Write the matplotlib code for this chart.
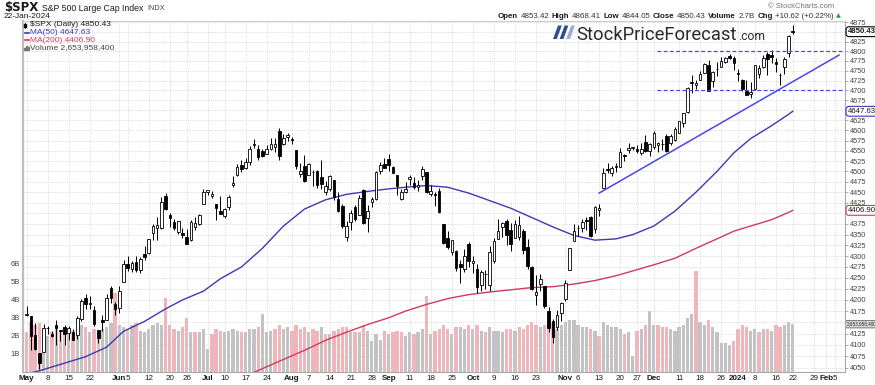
import numpy as np
import pandas as pd
import matplotlib
matplotlib.use("Agg")
import matplotlib.pyplot as plt
from matplotlib import font_manager as fm
from matplotlib.patches import Polygon, Rectangle
from matplotlib.lines import Line2D
from matplotlib.ticker import NullLocator

# =====================================================
# DATA  (daily $SPX, 1-May-2023 .. 22-Jan-2024)
# =====================================================

HOLIDAYS = ["2023-05-29", "2023-06-19", "2023-07-04", "2023-09-04",
            "2023-11-23", "2023-12-25", "2024-01-01", "2024-01-15"]

PREV_CLOSE = 4169.48  # 28-Apr-2023

OPEN = [
    4166.79, 4164.10, 4122.25, 4082.61, 4084.73, 4136.98, 4124.25, 4143.74, 4132.24, 4138.54, 4126.65,
    4127.95, 4122.85, 4157.68, 4204.15, 4190.78, 4176.80, 4132.96, 4155.71, 4156.16, 4226.71, 4190.74,
    4183.03, 4241.01, 4282.99, 4271.34, 4285.47, 4268.69, 4304.88, 4308.32, 4352.61, 4366.29, 4365.33,
    4440.95, 4396.11, 4380.01, 4355.40, 4354.17, 4344.84, 4337.36, 4367.48, 4374.94, 4422.44,
    4450.48, 4442.04, 4422.62, 4404.54, 4394.23, 4415.55, 4467.69, 4491.50, 4514.61, 4508.86,
    4521.78, 4563.87, 4554.38, 4550.16, 4543.39, 4555.19, 4558.96, 4598.26, 4565.75, 4584.82,
    4578.83, 4550.93, 4494.27, 4513.96, 4491.58, 4498.03, 4501.57, 4487.16, 4450.69, 4458.13, 4478.87,
    4433.79, 4416.32, 4344.88, 4380.28, 4415.33, 4396.44, 4455.16, 4389.38, 4426.03, 4432.75, 4500.34, 4517.01,
    4530.60, 4510.06, 4490.35, 4434.55, 4451.30, 4480.98, 4473.27, 4462.65, 4487.78, 4497.98,
    4445.13, 4445.41, 4452.81, 4374.36, 4341.74, 4310.62, 4312.88, 4282.63, 4269.65, 4328.18,
    4284.52, 4269.75, 4233.83, 4259.31, 4234.79, 4289.02, 4339.75, 4366.59, 4380.94, 4360.49, 4342.37,
    4345.23, 4357.35, 4321.36, 4273.85, 4210.40, 4235.79, 4232.42, 4175.99, 4152.93, 4139.39, 4171.33,
    4201.27, 4268.26, 4334.23, 4364.27, 4366.21, 4384.37, 4391.41, 4364.15, 4406.66, 4458.97, 4505.30,
    4497.08, 4509.55, 4511.70, 4538.77, 4553.04, 4555.84, 4554.86, 4545.55, 4571.84, 4548.91,
    4559.43, 4564.37, 4566.75, 4586.23, 4568.84, 4576.20, 4593.39, 4618.30, 4646.20, 4721.04,
    4714.23, 4725.58, 4743.72, 4764.73, 4724.29, 4753.92, 4758.86, 4773.45, 4786.44, 4782.88,
    4745.20, 4725.07, 4697.42, 4690.57, 4703.70, 4741.93, 4759.94, 4792.13, 4791.18, 4772.35,
    4739.13, 4760.10, 4796.28, 4853.42,
]
HIGH = [
    4186.92, 4164.10, 4148.30, 4082.61, 4147.02, 4142.30, 4130.35, 4154.28, 4132.80, 4143.74, 4141.25,
    4135.54, 4164.67, 4202.20, 4212.91, 4209.22, 4185.68, 4132.96, 4165.74, 4212.87, 4231.10, 4195.44,
    4232.43, 4290.67, 4299.28, 4288.33, 4299.19, 4298.01, 4322.62, 4340.13, 4375.37, 4391.82, 4439.20,
    4448.47, 4400.15, 4386.22, 4382.25, 4366.55, 4362.06, 4384.42, 4390.35, 4398.39, 4458.48,
    4456.46, 4454.06, 4422.62, 4440.39, 4412.60, 4443.64, 4488.34, 4517.38, 4527.76, 4532.85,
    4562.30, 4578.43, 4564.74, 4555.00, 4563.41, 4580.62, 4582.47, 4607.07, 4590.16, 4594.22,
    4584.62, 4550.93, 4519.49, 4540.34, 4519.84, 4503.31, 4502.44, 4527.37, 4476.23, 4490.33, 4478.87,
    4449.95, 4421.17, 4381.82, 4407.55, 4418.59, 4443.18, 4458.30, 4418.46, 4439.56, 4500.14, 4521.65, 4532.26,
    4541.25, 4514.29, 4490.35, 4457.81, 4473.53, 4490.77, 4487.11, 4479.39, 4511.99, 4497.98,
    4466.36, 4449.85, 4461.03, 4375.70, 4357.40, 4338.51, 4313.01, 4292.07, 4317.27, 4333.15,
    4300.58, 4281.15, 4268.50, 4267.13, 4324.10, 4341.73, 4385.46, 4378.64, 4385.85, 4377.10, 4383.33,
    4393.57, 4364.20, 4339.54, 4276.56, 4255.84, 4259.38, 4232.42, 4183.60, 4156.70, 4177.47, 4195.55,
    4245.64, 4319.72, 4373.62, 4372.21, 4386.26, 4391.20, 4393.40, 4418.03, 4421.76, 4508.67, 4521.17,
    4511.99, 4520.12, 4557.11, 4542.14, 4568.43, 4560.31, 4564.37, 4568.14, 4587.64, 4569.89,
    4599.39, 4572.37, 4578.56, 4590.74, 4590.92, 4609.23, 4623.71, 4643.93, 4709.69, 4738.57,
    4725.53, 4749.52, 4768.69, 4778.01, 4748.71, 4772.94, 4784.72, 4785.39, 4793.30, 4788.43,
    4754.33, 4729.29, 4726.78, 4721.49, 4764.54, 4765.47, 4790.80, 4798.50, 4802.40, 4782.34,
    4744.23, 4785.79, 4842.07, 4868.41,
]
LOW = [
    4164.12, 4089.72, 4088.86, 4048.28, 4084.73, 4123.81, 4116.65, 4098.92, 4109.29, 4099.12, 4110.27,
    4109.86, 4113.62, 4153.50, 4180.20, 4179.68, 4142.54, 4103.98, 4129.73, 4156.16, 4192.18, 4166.15,
    4171.64, 4241.01, 4266.82, 4263.09, 4263.96, 4261.07, 4291.70, 4304.37, 4337.66, 4337.85, 4362.60,
    4407.44, 4367.19, 4360.14, 4351.82, 4341.34, 4328.08, 4335.00, 4360.22, 4371.97, 4422.44,
    4442.29, 4436.61, 4385.05, 4397.40, 4389.92, 4408.46, 4463.23, 4489.36, 4499.56, 4504.90,
    4514.59, 4557.48, 4527.56, 4535.79, 4541.29, 4552.42, 4547.58, 4528.56, 4564.01, 4573.14,
    4567.53, 4505.75, 4485.54, 4474.55, 4491.15, 4464.39, 4461.33, 4457.92, 4443.98, 4453.44, 4432.19,
    4403.55, 4364.83, 4335.31, 4360.30, 4382.77, 4396.44, 4375.55, 4356.29, 4414.98, 4431.68, 4493.59, 4507.39,
    4501.35, 4496.01, 4442.38, 4430.46, 4448.38, 4467.89, 4456.83, 4453.52, 4478.69, 4447.21,
    4442.11, 4416.61, 4401.38, 4329.17, 4316.49, 4302.70, 4265.98, 4238.63, 4264.38, 4274.86,
    4260.21, 4216.45, 4220.48, 4225.91, 4219.55, 4283.79, 4339.64, 4345.34, 4325.43, 4311.97, 4342.37,
    4337.54, 4303.84, 4269.69, 4223.03, 4189.22, 4219.43, 4181.42, 4127.90, 4103.78, 4132.94, 4153.12,
    4197.74, 4268.26, 4334.23, 4347.53, 4355.41, 4359.76, 4343.94, 4353.34, 4393.82, 4458.97, 4495.31,
    4487.83, 4499.66, 4510.36, 4525.51, 4545.05, 4552.80, 4545.07, 4540.51, 4547.15, 4537.24,
    4554.71, 4546.72, 4551.68, 4546.50, 4565.22, 4574.06, 4593.39, 4608.09, 4643.23, 4694.34,
    4704.69, 4725.58, 4743.72, 4697.82, 4708.35, 4736.77, 4758.45, 4768.90, 4780.98, 4751.99,
    4722.67, 4699.71, 4687.53, 4682.11, 4699.82, 4730.35, 4756.20, 4739.58, 4768.98, 4747.12,
    4714.82, 4740.57, 4785.87, 4844.05,
]
CLOSE = [
    4167.87, 4119.58, 4090.75, 4061.22, 4136.25, 4138.12, 4119.17, 4137.64, 4130.62, 4124.08, 4136.28,
    4109.90, 4158.77, 4198.05, 4191.98, 4192.63, 4145.58, 4115.24, 4151.28, 4205.45, 4205.52, 4179.83,
    4221.02, 4282.37, 4273.79, 4283.85, 4267.52, 4293.93, 4298.86, 4338.93, 4369.01, 4372.59, 4425.84,
    4409.59, 4388.71, 4365.69, 4381.89, 4348.33, 4328.82, 4378.41, 4376.86, 4396.44, 4450.38,
    4455.59, 4446.82, 4411.59, 4398.95, 4409.53, 4439.26, 4472.16, 4510.04, 4505.42, 4522.79,
    4554.98, 4565.72, 4534.87, 4536.34, 4554.64, 4567.46, 4566.75, 4537.41, 4582.23, 4588.96,
    4576.73, 4513.39, 4501.89, 4478.03, 4518.44, 4499.38, 4467.71, 4468.83, 4464.05, 4489.72, 4437.86,
    4404.33, 4370.36, 4369.71, 4399.77, 4387.55, 4436.01, 4376.31, 4405.71, 4433.31, 4497.63, 4514.87, 4507.66,
    4515.77, 4496.83, 4465.48, 4451.14, 4457.49, 4487.46, 4461.90, 4467.44, 4505.10, 4450.32,
    4453.53, 4443.95, 4402.20, 4330.00, 4320.06, 4337.44, 4273.53, 4274.51, 4299.70, 4288.05,
    4288.39, 4229.45, 4263.75, 4258.19, 4308.50, 4335.66, 4358.24, 4376.95, 4349.61, 4327.78, 4373.63,
    4373.20, 4314.60, 4278.00, 4224.16, 4217.04, 4247.68, 4186.77, 4137.23, 4117.37, 4166.82, 4193.80,
    4237.86, 4317.78, 4358.34, 4365.98, 4378.38, 4382.78, 4347.35, 4415.24, 4411.55, 4495.70, 4502.88,
    4508.24, 4514.02, 4547.38, 4538.19, 4556.62, 4559.34, 4550.43, 4554.89, 4550.58, 4567.80,
    4594.63, 4569.78, 4567.18, 4549.34, 4585.59, 4604.37, 4622.44, 4643.70, 4707.09, 4719.55,
    4719.19, 4740.56, 4768.37, 4698.35, 4746.75, 4754.63, 4774.75, 4781.58, 4783.35, 4769.83,
    4742.83, 4704.81, 4688.68, 4697.24, 4763.54, 4756.50, 4783.45, 4780.24, 4783.83, 4765.98,
    4739.21, 4780.94, 4839.81, 4850.43,
]
# volume, billions of shares
VOLUME = [
    2.2, 2.8, 2.6, 2.7, 2.3, 2.0, 2.2, 2.4, 2.3, 2.2, 2.1, 2.3, 2.4, 2.6, 2.5, 2.2, 2.4, 2.3, 2.4, 2.5, 2.7, 4.4,
    2.6, 2.5, 2.4, 2.6, 2.7, 2.3, 2.2, 2.4, 2.6, 2.7, 2.6, 4.1, 2.6, 2.4, 2.3, 2.5, 3.0, 2.2, 2.2, 2.2, 2.4,
    1.3, 2.1, 2.4, 2.3, 2.2, 2.3, 2.4, 2.3, 2.2, 2.2, 2.4, 2.4, 2.5, 3.2, 2.2, 2.3, 2.4, 2.6, 2.4, 2.5,
    2.3, 2.6, 2.4, 2.5, 2.2, 2.4, 2.3, 2.5, 2.1, 2.1, 2.3, 2.4, 2.5, 2.5, 2.2, 2.2, 2.2, 2.6, 2.3, 1.7, 2.1, 1.8, 2.3,
    2.1, 2.2, 2.3, 2.2, 2.0, 2.2, 2.1, 2.2, 2.4, 4.2, 2.1, 2.3, 2.4, 2.6, 2.4, 2.1, 2.5, 2.5, 2.4, 2.6,
    2.4, 2.6, 2.3, 2.2, 2.5, 2.3, 2.3, 2.2, 2.4, 2.4, 2.3, 2.5, 2.4, 2.6, 2.8, 2.6, 2.5, 2.6, 2.8, 2.7, 2.4, 2.6,
    2.8, 2.9, 2.9, 2.6, 2.5, 2.5, 2.4, 2.3, 2.0, 2.8, 2.6, 2.5, 2.5, 2.4, 2.1, 2.2, 0.9, 2.3, 2.4, 2.6, 3.4,
    2.6, 2.6, 2.5, 2.5, 2.4, 2.3, 2.5, 2.6, 3.0, 3.2, 5.6, 2.8, 2.6, 2.9, 2.5, 2.2, 1.6, 1.6, 1.5, 1.7,
    2.4, 2.6, 2.5, 2.3, 2.4, 2.2, 2.4, 2.4, 2.3, 2.6, 2.5, 2.6, 2.8, 2.6539584,
]

MA50_DATES = ["2023-05-01", "2023-05-05", "2023-05-12", "2023-05-19", "2023-05-26", "2023-06-02",
              "2023-06-09", "2023-06-16", "2023-06-23", "2023-06-30", "2023-07-07", "2023-07-14",
              "2023-07-21", "2023-07-28", "2023-08-04", "2023-08-11", "2023-08-18", "2023-08-25",
              "2023-09-01", "2023-09-08", "2023-09-15", "2023-09-22", "2023-09-29", "2023-10-06",
              "2023-10-13", "2023-10-20", "2023-10-27", "2023-11-03", "2023-11-10", "2023-11-17",
              "2023-11-24", "2023-12-01", "2023-12-08", "2023-12-15", "2023-12-22", "2023-12-29",
              "2024-01-05", "2024-01-12", "2024-01-19", "2024-01-22"]
MA50 = [4036, 4046, 4060, 4074, 4095, 4130, 4152, 4180, 4200, 4220, 4248, 4275,
        4318, 4370, 4410, 4432, 4445, 4452, 4458, 4462, 4466, 4462, 4448, 4430,
        4412, 4390, 4368, 4348, 4337, 4340, 4350, 4370, 4405, 4450, 4500, 4545,
        4580, 4612, 4640, 4647.63]

MA200_DATES = ["2023-07-14", "2023-07-21", "2023-07-28", "2023-08-04", "2023-08-11", "2023-08-18",
               "2023-08-25", "2023-09-01", "2023-09-08", "2023-09-15", "2023-09-22", "2023-09-29",
               "2023-10-06", "2023-10-13", "2023-10-20", "2023-10-27", "2023-11-03", "2023-11-10",
               "2023-11-17", "2023-11-24", "2023-12-01", "2023-12-08", "2023-12-15", "2023-12-22",
               "2023-12-29", "2024-01-05", "2024-01-12", "2024-01-19", "2024-01-22"]
MA200 = [4028, 4048, 4068, 4088, 4110, 4128, 4145, 4160, 4175, 4190, 4203, 4212,
         4218, 4223, 4228, 4230, 4236, 4244, 4255, 4266, 4280, 4295, 4318, 4340,
         4358, 4370, 4385, 4402, 4406.90]

# drawn annotations: rising trendline and the 4700/4800 range
TREND_DATES = ["2023-11-13", "2024-02-06"]
TREND_VALUES = [4448, 4790]
RANGE_START = "2023-12-04"
RANGE_LEVELS = [4700, 4800]

X_TICK_DATES = ["2023-05-01", "2023-05-08", "2023-05-15", "2023-05-22", "2023-06-01", "2023-06-05",
                "2023-06-12", "2023-06-20", "2023-06-26", "2023-07-03", "2023-07-10", "2023-07-17",
                "2023-07-24", "2023-08-01", "2023-08-07", "2023-08-14", "2023-08-21", "2023-08-28",
                "2023-09-01", "2023-09-11", "2023-09-18", "2023-09-25", "2023-10-02", "2023-10-09",
                "2023-10-16", "2023-10-23", "2023-11-01", "2023-11-06", "2023-11-13", "2023-11-20",
                "2023-11-27", "2023-12-01", "2023-12-11", "2023-12-18", "2023-12-26", "2024-01-02",
                "2024-01-08", "2024-01-16", "2024-01-22", "2024-01-29", "2024-02-01", "2024-02-05"]
X_TICK_LABELS = ["May", "8", "15", "22", "Jun", "5", "12", "20", "26", "Jul", "10", "17",
                 "24", "Aug", "7", "14", "21", "28", "Sep", "11", "18", "25", "Oct", "9",
                 "16", "23", "Nov", "6", "13", "20", "27", "Dec", "11", "18", "26", "2024",
                 "8", "16", "22", "29", "Feb", "5"]

PRICE_TICKS = list(range(4050, 4876, 25))
VOL_TICKS = [1, 2, 3, 4, 5, 6]

# =====================================================
# STYLE
# =====================================================

W, H = 875, 385
TEXT = "#1a1a1a"
MUTED = "#444444"
MA50_C = "#3a3ab4"
MA200_C = "#d23a5a"
TREND_C = "#4848e8"
UP_VOL = "#c2c2c2"
DN_VOL = "#efb5ba"
GRID = "#cfcfcf"


def has_font(name):
    try:
        fm.findfont(fm.FontProperties(family=name), fallback_to_default=False)
        return True
    except ValueError:
        return False


NARROW = "Liberation Sans Narrow" if has_font("Liberation Sans Narrow") else "Liberation Sans"
LOGO_FONT = NARROW if NARROW.endswith("Narrow") else "Roboto"

plt.rcParams.update({
    "font.family": ["Liberation Sans", "DejaVu Sans"],
    "text.color": TEXT,
})


def F(x, y):
    # pixel position (from top-left) -> figure fraction
    return (x / W, 1 - y / H)


assert len(OPEN) == len(HIGH) == len(LOW) == len(CLOSE) == len(VOLUME)

dates = pd.bdate_range("2023-05-01", "2024-02-09", freq="C", holidays=HOLIDAYS)
pos = {d.strftime("%Y-%m-%d"): i for i, d in enumerate(dates)}

o = np.array(OPEN)
h = np.array(HIGH)
l = np.array(LOW)
c = np.array(CLOSE)
v = np.array(VOLUME)
x = np.arange(len(c))

prev = np.concatenate([[PREV_CLOSE], c[:-1]])
down_day = c < prev

# plot box in pixels
PL, PR, PT, PB = 23, 845, 21, 372
PX_PER_BAR = 4.209
FIRST_BAR_PX = 26.7

fig = plt.figure(figsize=(W / 100, H / 100), dpi=100)
rect = [PL / W, 1 - PB / H, (PR - PL) / W, (PB - PT) / H]

vax = fig.add_axes(rect)
ax = fig.add_axes(rect, sharex=vax)
vax.set_zorder(1)
ax.set_zorder(2)
ax.patch.set_visible(False)

# =====================================================
# VOLUME
# =====================================================

vax.bar(x, v, width=0.78, color=np.where(down_day, DN_VOL, UP_VOL), linewidth=0)
vax.set_ylim(0, (PB - PT) / 18.0)
vax.set_yticks(VOL_TICKS)
vax.set_yticklabels([f"{t}B" for t in VOL_TICKS])
vax.tick_params(axis="y", length=0, labelsize=5.5, labelcolor=MUTED, pad=2)
vax.tick_params(axis="x", bottom=False, labelbottom=False)
for s in vax.spines.values():
    s.set_visible(False)

# =====================================================
# PRICE (log scale)
# =====================================================

ax.set_yscale("log")
ax.set_ylim(4040.7, 4878.4)
ax.set_xlim((PL - FIRST_BAR_PX) / PX_PER_BAR, (PR - FIRST_BAR_PX) / PX_PER_BAR)

ax.yaxis.set_minor_locator(NullLocator())
ax.set_yticks(PRICE_TICKS)
hidden = {4850, 4650, 4400, 4150}
ax.set_yticklabels(["" if t in hidden else str(t) for t in PRICE_TICKS])
ax.yaxis.tick_right()
ax.tick_params(axis="y", which="both", length=2, width=0.5, color="#888888",
               labelsize=5.3, labelcolor=MUTED, pad=1.5)

ax.set_xticks([pos[d] for d in X_TICK_DATES])
ax.set_xticklabels(X_TICK_LABELS)
ax.tick_params(axis="x", length=0, labelsize=5.8, pad=2.5, labelcolor=TEXT)
for lab in ax.get_xticklabels():
    if not lab.get_text().isdigit() or lab.get_text() == "2024":
        lab.set_fontweight("bold")

ax.grid(True, which="major", color=GRID, linestyle=(0, (1, 1.5)), linewidth=0.6)
ax.set_axisbelow(True)

for side, col, lw in [("left", "#bdbdbd", 1.6), ("right", "#a8a8a8", 0.8),
                      ("top", "#cccccc", 0.8), ("bottom", "#a8a8a8", 0.8)]:
    ax.spines[side].set_color(col)
    ax.spines[side].set_linewidth(lw)

# candles
up = c >= o
body_lo = np.minimum(o, c)
body_h = np.maximum(np.abs(c - o), 0.6)
ax.vlines(x, l, h, color="black", linewidth=0.7, zorder=3)
ax.bar(x, body_h, bottom=body_lo, width=0.62,
       color=np.where(up, "white", "black"), edgecolor="black", linewidth=0.6, zorder=4)

# moving averages
ax.plot([pos[d] for d in MA50_DATES], MA50, color=MA50_C, linewidth=1.0, zorder=2)
ax.plot([pos[d] for d in MA200_DATES], MA200, color=MA200_C, linewidth=1.0, zorder=2)

# trendline and range
ax.plot([pos[d] for d in TREND_DATES], TREND_VALUES, color=TREND_C, linewidth=1.1, zorder=5)
x_end = ax.get_xlim()[1]
for lvl in RANGE_LEVELS:
    ax.plot([pos[RANGE_START] - 0.3, x_end], [lvl, lvl], color=TREND_C,
            linewidth=0.9, linestyle=(0, (3, 2)), zorder=5)

# =====================================================
# HEADER
# =====================================================

t = fig.text(*F(4, 8), "$SPX", fontsize=8.5, fontweight="bold", va="center",
             family="DejaVu Sans")
t = ax.annotate("S&P 500 Large Cap Index", xy=(1, 0.45), xycoords=t, xytext=(2.5, 0),
                textcoords="offset points", va="center", fontsize=6.3, annotation_clip=False)
ax.annotate("INDX", xy=(1, 0.5), xycoords=t, xytext=(3, 0),
            textcoords="offset points", va="center", fontsize=5.3, color=MUTED, annotation_clip=False)
fig.text(*F(4, 17), "22-Jan-2024", fontsize=6, va="center", color=TEXT)

fig.text(*F(834, 6), "\u00a9 StockCharts.com", fontsize=5.5, va="center", ha="right", color="#777777")

chg = c[-1] - c[-2]
pieces = [("Open", "bold"), (f"{o[-1]:.2f}", "normal"),
          ("High", "bold"), (f"{h[-1]:.2f}", "normal"),
          ("Low", "bold"), (f"{l[-1]:.2f}", "normal"),
          ("Close", "bold"), (f"{c[-1]:.2f}", "normal"),
          ("Volume", "bold"), (f"{v[-1]:.1f}B", "normal"),
          ("Chg", "bold"), (f"{chg:+.2f} ({chg / c[-2] * 100:+.2f}%)", "normal")]
t = fig.text(*F(841, 16), "\u25b2", fontsize=4.5, va="center", ha="right", color="#1e9e3a",
             family="DejaVu Sans")
for s, w in reversed(pieces):
    t = ax.annotate(s, xy=(0, 0.5), xycoords=t, xytext=(-1.8, 0), textcoords="offset points",
                    ha="right", va="center", fontsize=5.7, fontweight=w,
                    color=TEXT if w == "bold" else "#333333", annotation_clip=False)

# legend inside the plot
fig.add_artist(Line2D([25.3 / W, 25.3 / W], [1 - 22.5 / H, 1 - 28 / H], color="black", lw=0.6,
                      zorder=10))
fig.add_artist(Rectangle((24.3 / W, 1 - 27 / H), 2 / W, 3.5 / H, color="black", zorder=10))
fig.text(*F(29.5, 25), f"$SPX (Daily) {c[-1]:.2f}", fontsize=6, va="center", color=TEXT)
fig.add_artist(Line2D([24.5 / W, 29 / W], [1 - 32.8 / H] * 2, color=MA50_C, lw=1.2, zorder=10))
fig.text(*F(30, 32.8), f"MA(50) {MA50[-1]:.2f}", fontsize=6, va="center", color=MA50_C)
fig.add_artist(Line2D([24.5 / W, 29 / W], [1 - 40.2 / H] * 2, color=MA200_C, lw=1.2, zorder=10))
fig.text(*F(30, 40.2), f"MA(200) {MA200[-1]:.2f}", fontsize=6, va="center", color=MA200_C)
for i, hh in enumerate([2.5, 4.0, 3.0]):
    fig.add_artist(Rectangle(((24.3 + i * 1.6) / W, 1 - 50 / H), 1.2 / W, hh / H, color="#777777",
                             zorder=10))
fig.text(*F(30, 47.5), f"Volume {int(round(v[-1] * 1e9)):,}", fontsize=6, va="center", color=MUTED)

# value flags on the right axis
flags = [(c[-1], "black", "white", True),
         (MA50[-1], MA50_C, "white", False),
         (MA200[-1], MA200_C, "white", False)]
for val, edge, face, bold in flags:
    ax.text(1.003, val, f"{val:.2f}", transform=ax.get_yaxis_transform(), fontsize=5.6,
            va="center", ha="left", fontweight="bold" if bold else "normal", family=NARROW,
            bbox=dict(boxstyle="round,pad=0.18,rounding_size=0.35", fc=face, ec=edge, lw=0.8),
            zorder=10, clip_on=False)
vax.text(1.002, v[-1], f"{int(round(v[-1] * 1e9)):,}", transform=vax.get_yaxis_transform(),
         fontsize=3.3, va="center", ha="left", color="#222222", family=NARROW,
         bbox=dict(boxstyle="round,pad=0.25,rounding_size=0.3", fc="#d9d9d9", ec="#777777", lw=0.7),
         zorder=10, clip_on=False)

# =====================================================
# WATERMARK LOGO
# =====================================================

for i in range(3):
    x0 = 553 + i * 6.6
    col = "#2f4f8c" if i < 2 else "#9eaecb"
    fig.add_artist(Polygon([F(x0, 39), F(x0 + 3.8, 39), F(x0 + 8.8, 25.5), F(x0 + 5.0, 25.5)],
                           closed=True, facecolor=col, edgecolor="none",
                           transform=fig.transFigure, zorder=10))

renderer = fig.canvas.get_renderer()


def fit_text(txt, x_px, base_px, width_px, size, **kw):
    t = fig.text(*F(x_px, base_px), txt, fontsize=size, va="baseline", ha="left", zorder=10, **kw)
    wpx = t.get_window_extent(renderer).width
    t.set_fontsize(size * width_px / wpx)
    return t


fit_text("StockPriceForecast", 576, 39.5, 161, 14, family=LOGO_FONT, color="#2b2b2b")
fit_text(".com", 738, 39.5, 27, 10, family=LOGO_FONT, color="#2b2b2b")

fig.savefig("out.png", dpi=100)
plt.close(fig)
